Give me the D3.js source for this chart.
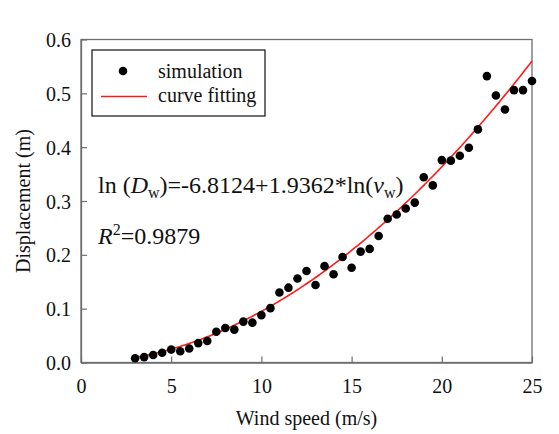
<!DOCTYPE html>
<html>
<head>
<meta charset="utf-8">
<script src="https://cdn.jsdelivr.net/npm/d3@7"></script>
<style>
  html, body { margin: 0; padding: 0; background: #ffffff; }
  svg { display: block; }
  text { font-family: "Liberation Serif", "Times New Roman", serif; fill: #111; }
</style>
</head>
<body>
<svg id="chart" width="559" height="434"></svg>
<script>
// Wind speed (m/s) of each simulated case
const windSpeed = [3, 3.5, 4, 4.5, 5, 5.5, 6, 6.5, 7, 7.5, 8, 8.5, 9, 9.5, 10, 10.5,
  11, 11.5, 12, 12.5, 13, 13.5, 14, 14.5, 15, 15.5, 16, 16.5, 17, 17.5, 18, 18.5,
  19, 19.5, 20, 20.5, 21, 21.5, 22, 22.5, 23, 23.5, 24, 24.5, 25];
// Simulated displacement (m)
const displacement = [0.008, 0.010, 0.014, 0.018, 0.024, 0.021, 0.026, 0.036, 0.040, 0.057,
  0.064, 0.061, 0.076, 0.074, 0.088, 0.101, 0.130, 0.139, 0.156, 0.170, 0.144, 0.179,
  0.164, 0.196, 0.176, 0.206, 0.211, 0.235, 0.267, 0.275, 0.286, 0.297, 0.344, 0.329,
  0.376, 0.375, 0.384, 0.399, 0.433, 0.532, 0.496, 0.470, 0.506, 0.506, 0.523];
// Fitted relation: ln(Dw) = a + b*ln(vw)
const fitA = -6.8124;
const fitB = 1.9362;
const fitRange = [3, 25];
const xTicks = [0, 5, 10, 15, 20, 25];
const yTicks = [0.0, 0.1, 0.2, 0.3, 0.4, 0.5, 0.6];

const svg = d3.select("#chart");
const x = d3.scaleLinear().domain([0, 25]).range([81, 532]);
const y = d3.scaleLinear().domain([0, 0.6]).range([362.5, 39.5]);
const axisColor = "#6e6e6e";

// Frame around the plotting area
svg.append("rect")
  .attr("x", x(0)).attr("y", y(0.6))
  .attr("width", x(25) - x(0)).attr("height", y(0) - y(0.6))
  .attr("fill", "none").attr("stroke", axisColor).attr("stroke-width", 1.3);

// Bottom axis with inward ticks
const gx = svg.append("g").attr("transform", `translate(0,${y(0)})`)
  .call(d3.axisBottom(x).tickValues(xTicks).tickSizeInner(-6).tickSizeOuter(0)
    .tickPadding(14).tickFormat(d3.format("d")));
gx.select(".domain").attr("stroke", axisColor).attr("stroke-width", 1.3);
gx.selectAll(".tick line").attr("stroke", axisColor).attr("stroke-width", 1.2);
gx.selectAll(".tick text").attr("font-size", 20).attr("fill", "#111")
  .attr("dy", "0.71em").attr("y", 16);

// Left axis with inward ticks
const gy = svg.append("g").attr("transform", `translate(${x(0)},0)`)
  .call(d3.axisLeft(y).tickValues(yTicks).tickSizeInner(-6).tickSizeOuter(0)
    .tickPadding(10).tickFormat(d3.format(".1f")));
gy.select(".domain").attr("stroke", axisColor).attr("stroke-width", 1.3);
gy.selectAll(".tick line").attr("stroke", axisColor).attr("stroke-width", 1.2);
gy.selectAll(".tick text").attr("font-size", 20).attr("fill", "#111")
  .attr("x", -10).attr("dy", "0.35em");

// Axis titles
svg.append("text")
  .attr("x", (x(0) + x(25)) / 2).attr("y", 425)
  .attr("text-anchor", "middle").attr("font-size", 20)
  .text("Wind speed (m/s)");
svg.append("text")
  .attr("transform", `translate(30,${(y(0) + y(0.6)) / 2}) rotate(-90)`)
  .attr("text-anchor", "middle").attr("font-size", 20)
  .text("Displacement (m)");

// Fitted curve: Dw = exp(a) * vw^b
const curveData = d3.range(fitRange[0], fitRange[1] + 0.001, 0.1)
  .map(v => [v, Math.exp(fitA + fitB * Math.log(v))]);
svg.append("path")
  .datum(curveData)
  .attr("fill", "none").attr("stroke", "#ff1a1a").attr("stroke-width", 1.6)
  .attr("d", d3.line().x(d => x(d[0])).y(d => y(d[1])));

// Simulation points
svg.append("g").selectAll("circle")
  .data(windSpeed.map((v, i) => [v, displacement[i]]))
  .join("circle")
  .attr("cx", d => x(d[0])).attr("cy", d => y(d[1]))
  .attr("r", 4.3).attr("fill", "#000");

// Legend
const lg = svg.append("g");
lg.append("rect").attr("x", 92).attr("y", 50).attr("width", 173).attr("height", 66)
  .attr("fill", "#fff").attr("stroke", "#111").attr("stroke-width", 1.2);
lg.append("circle").attr("cx", 123).attr("cy", 71).attr("r", 4.3).attr("fill", "#000");
lg.append("text").attr("x", 158).attr("y", 78).attr("font-size", 20).text("simulation");
lg.append("line").attr("x1", 101).attr("x2", 147).attr("y1", 96.5).attr("y2", 96.5)
  .attr("stroke", "#ff1a1a").attr("stroke-width", 1.6);
lg.append("text").attr("x", 158).attr("y", 102).attr("font-size", 20).text("curve fitting");

// Fit equation and coefficient of determination
const eq = svg.append("text").attr("x", 98).attr("y", 193).attr("font-size", 24);
eq.append("tspan").text("ln (");
eq.append("tspan").attr("font-style", "italic").text("D");
eq.append("tspan").attr("font-size", 16).attr("dy", 5).text("w");
eq.append("tspan").attr("dy", -5).text(`)=${fitA}+${fitB}*ln(`);
eq.append("tspan").attr("font-style", "italic").text("v");
eq.append("tspan").attr("font-size", 16).attr("dy", 5).text("w");
eq.append("tspan").attr("dy", -5).text(")");

const r2 = svg.append("text").attr("x", 98).attr("y", 244).attr("font-size", 24);
r2.append("tspan").attr("font-style", "italic").text("R");
r2.append("tspan").attr("font-size", 16).attr("dy", -9).text("2");
r2.append("tspan").attr("dy", 9).text("=0.9879");
</script>
</body>
</html>
